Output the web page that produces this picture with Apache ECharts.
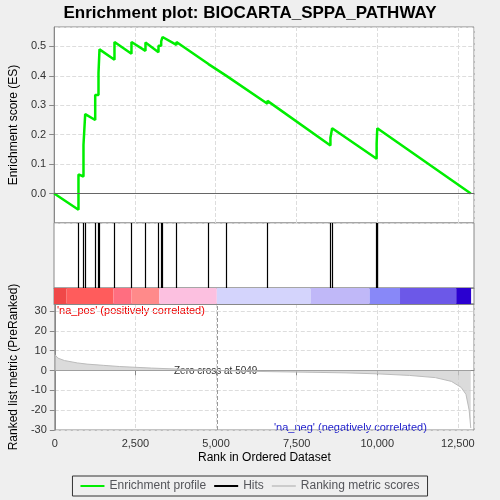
<!DOCTYPE html><html><head><meta charset="utf-8"><script src="https://cdn.jsdelivr.net/npm/echarts@6/dist/echarts.min.js"></script></head><body style="margin:0;background:#efefef"><div id="c" style="width:500px;height:500px"></div><script>
var esProfile=[[0,0],[752,-0.055],[752,0.065],[907,0.058],[907,0.165],[960,0.165],[960,0.27],[1270,0.25],[1270,0.335],[1372,0.335],[1372,0.41],[1403,0.41],[1403,0.49],[1867,0.455],[1867,0.515],[2393,0.475],[2393,0.515],[2827,0.485],[2827,0.513],[3230,0.48],[3230,0.502],[3313,0.502],[3313,0.517],[3354,0.517],[3354,0.532],[3786,0.505],[3786,0.515],[4777,0.44],[5334,0.4],[6604,0.305],[6604,0.315],[8554,0.163],[8554,0.19],[8607,0.19],[8607,0.222],[9985,0.118],[9985,0.17],[10005,0.17],[10005,0.222],[12900,0]];
var hits=[752,907,960,1270,1372,1403,1867,2393,2827,3230,3313,3354,3786,4777,5334,6604,8554,8607,9975,9990,10005];
var metric=[[0,8],[100,6.2],[300,5],[700,3.8],[1000,3.2],[1500,2.6],[2000,2],[3000,1.2],[4000,0.6],[5049,0],[6000,-0.4],[7500,-0.8],[9000,-1.2],[10000,-1.7],[11000,-2.5],[11800,-3.6],[12300,-5.5],[12600,-8.5],[12750,-12],[12850,-20],[12900,-29]];
var bands=[[0,390,'#f04848'],[390,1840,'#ff5c5c'],[1840,2400,'#ff6e80'],[2400,3260,'#ff8a8a'],[3260,5040,'#fcc0e0'],[5040,7950,'#d4d4fc'],[7950,9770,'#c0b8f8'],[9770,10710,'#8888f8'],[10710,12450,'#6c58e8'],[12450,12910,'#2a00d0']];
var g=[{left:54,right:26,top:27,height:196},{left:54,right:26,top:223,height:65},{left:54,right:26,top:288,height:16},{left:54,right:26,top:304,height:126}];
var xa=[0,1,2,3].map(function(i){return {type:'value',gridIndex:i,min:0,max:13000,interval:2500,
 axisLabel:{show:i==3,fontSize:11,color:'#333',showMaxLabel:false,formatter:function(v){return v.toLocaleString('en-US')}},axisTick:{show:i==3},
 axisLine:{show:true,lineStyle:{color:'#888'}},splitLine:{show:i==0||i==3,lineStyle:{type:'dashed',color:'#ddd'}},
 name:i==3?'Rank in Ordered Dataset':'',nameLocation:'middle',nameGap:22,nameTextStyle:{fontSize:12,color:'#000'}}});
var ya=[{gridIndex:0,min:-0.1,max:0.566,interval:0.1,axisLabel:{fontSize:11,color:'#333',showMaxLabel:false,showMinLabel:false,formatter:function(v){return v.toFixed(1)}},splitLine:{lineStyle:{type:'dashed',color:'#ddd'}},axisLine:{show:true,lineStyle:{color:'#888'}},name:'Enrichment score (ES)',nameLocation:'middle',nameGap:34,nameTextStyle:{fontSize:12,color:'#000'}},
{gridIndex:1,min:0,max:1,show:false},{gridIndex:2,min:0,max:1,show:false},
{gridIndex:3,min:-30,max:33.5,interval:10,axisLabel:{fontSize:11,color:'#333',showMaxLabel:false},splitLine:{lineStyle:{type:'dashed',color:'#ddd'}},axisLine:{show:true,lineStyle:{color:'#888'}},name:'Ranked list metric (PreRanked)',nameLocation:'middle',nameGap:30,nameTextStyle:{fontSize:12,color:'#000'}}];
var opt={backgroundColor:'#efefef',animation:false,
title:{text:'Enrichment plot: BIOCARTA_SPPA_PATHWAY',left:'center',top:0,textStyle:{fontSize:17,fontWeight:'bold',color:'#000'}},
grid:g.map(function(o){o.backgroundColor='#fff';o.show=true;o.borderColor='#888';return o}),xAxis:xa,yAxis:ya,
legend:{bottom:4,left:'center',itemWidth:24,itemHeight:2,textStyle:{fontSize:12},borderColor:'#333',borderWidth:1,padding:[4,8],data:[{name:'Enrichment profile',icon:'rect'},{name:'Hits',icon:'rect',itemStyle:{color:'#000'}},{name:'Ranking metric scores',icon:'rect',itemStyle:{color:'#ccc'}}]},
series:[
{name:'Enrichment profile',type:'line',xAxisIndex:0,yAxisIndex:0,data:esProfile,symbol:'none',lineStyle:{color:'#00ee00',width:2.5},itemStyle:{color:'#00ee00'},
 markLine:{silent:true,symbol:'none',label:{show:false},lineStyle:{color:'#666',type:'solid',width:1},data:[{yAxis:0}]}},
{name:'Hits',type:'line',xAxisIndex:1,yAxisIndex:1,data:[],itemStyle:{color:'#000'},
 markLine:{silent:true,symbol:'none',label:{show:false},lineStyle:{color:'#000',type:'solid',width:1.2},data:hits.map(function(h){return {xAxis:h}})}},
{name:'bands',type:'line',xAxisIndex:2,yAxisIndex:2,data:[],
 markArea:{silent:true,data:bands.map(function(b){return [{xAxis:b[0],yAxis:0,itemStyle:{color:b[2]}},{xAxis:b[1],yAxis:1}]})}},
{name:'Ranking metric scores',type:'line',xAxisIndex:3,yAxisIndex:3,data:metric,symbol:'none',lineStyle:{color:'#bbb',width:1},areaStyle:{color:'#ccc'},itemStyle:{color:'#ccc'},
 markLine:{silent:true,symbol:'none',label:{show:false},lineStyle:{color:'#999',type:'dashed',width:1},data:[{xAxis:5049}]}}],
graphic:[{type:'text',left:57,top:305,style:{text:"'na_pos' (positively correlated)",fill:'#e00',font:'11px sans-serif'}},
{type:'text',left:174,top:366,style:{text:'Zero cross at 5049',fill:'#333',font:'10px sans-serif'}},
{type:'text',left:274,top:422,style:{text:"'na_neg' (negatively correlated)",fill:'#22c',font:'11px sans-serif'}}]};
echarts.init(document.getElementById('c')).setOption(opt);
</script></body></html>
